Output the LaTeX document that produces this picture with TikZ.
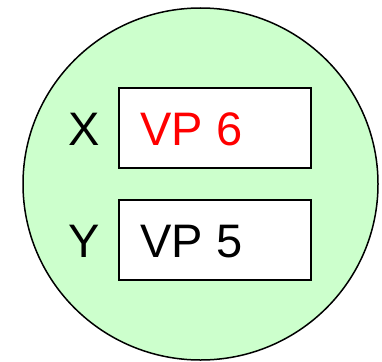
\documentclass[tikz,border=0pt]{standalone}
\usepackage{fontspec}
\setmainfont{Liberation Sans}
\definecolor{bggreen}{HTML}{CCFFCC}
\definecolor{vpred}{HTML}{FF0000}
\tikzset{
  valbox/.style={draw=black, line width=2pt, fill=white, minimum width=192pt, minimum height=80pt,
    text width=150pt, align=left, inner xsep=21pt, inner ysep=0pt,
    text height=34pt, text depth=0pt, font=\fontsize{47}{50}\selectfont},
  varlabel/.style={inner sep=0pt, text height=34pt, text depth=0pt, font=\fontsize{47}{50}\selectfont}
}
\begin{document}
\begin{tikzpicture}[x=1pt,y=-1pt]
\useasboundingbox (0,0) rectangle (382,361);
\draw[fill=bggreen, line width=1.5pt] (200.5,184) ellipse [x radius=177.5, y radius=176];
\node[valbox, text=vpred] (b1) at (215,128) {VP\hspace{-1.5pt} 6};
\node[valbox] (b2) at (215,240) {VP\hspace{-1.5pt} 5};
\node[varlabel] (x) at (84,128) {X};
\node[varlabel] (y) at (84,240) {Y};
\end{tikzpicture}
\end{document}
